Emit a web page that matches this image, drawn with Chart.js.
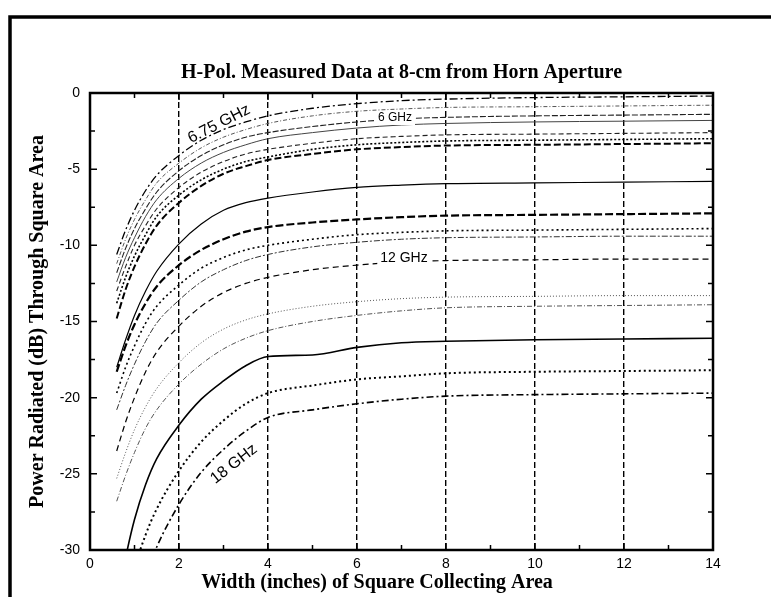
<!DOCTYPE html>
<html>
<head>
<meta charset="utf-8">
<title>H-Pol. Measured Data</title>
<script src="https://cdn.jsdelivr.net/npm/chart.js@4.4.1/dist/chart.umd.min.js"></script>
<style>
  html, body { margin: 0; padding: 0; background: #fff; }
  #wrap { position: relative; width: 771px; height: 597px; }
</style>
</head>
<body>
<div id="wrap"><canvas id="graph" width="771" height="597"></canvas></div>
<script>
// width of the square collecting area (inches)
const widths = [0.6, 0.8, 1, 1.25, 1.5, 2, 2.5, 3, 3.5, 4, 5, 6, 7, 8, 10, 12, 14];

// power through square area (dB), one array per measured curve
const top1 = [-10.6, -9.0, -7.7, -6.4, -5.4, -4.1, -3.1, -2.4, -1.9, -1.5, -1.0, -0.7, -0.5, -0.4, -0.3, -0.25, -0.2];
const top2 = [-11.2, -9.6, -8.3, -7.0, -5.9, -4.6, -3.6, -2.9, -2.4, -2.0, -1.5, -1.2, -1.05, -0.95, -0.9, -0.85, -0.8];
const top3 = [-11.8, -10.2, -8.9, -7.6, -6.5, -5.1, -4.1, -3.4, -2.9, -2.6, -2.2, -1.9, -1.7, -1.6, -1.5, -1.45, -1.4];
const top4 = [-12.4, -10.8, -9.5, -8.1, -7.0, -5.6, -4.6, -3.9, -3.4, -3.0, -2.6, -2.3, -2.1, -2.0, -1.9, -1.85, -1.8];
const top5 = [-13.0, -11.4, -10.0, -8.7, -7.6, -6.2, -5.2, -4.5, -4.0, -3.7, -3.3, -3.0, -2.85, -2.75, -2.7, -2.65, -2.6];
const top6 = [-13.8, -12.1, -10.7, -9.3, -8.1, -6.7, -5.7, -5.0, -4.5, -4.2, -3.7, -3.4, -3.25, -3.15, -3.1, -3.05, -3.0];
const top7 = [-14.8, -12.9, -11.4, -9.9, -8.7, -7.2, -6.1, -5.3, -4.8, -4.4, -4.0, -3.7, -3.55, -3.45, -3.4, -3.35, -3.3];
const mid1 = [-18.0, -16.2, -14.6, -13.0, -11.7, -9.9, -8.6, -7.7, -7.2, -6.9, -6.5, -6.2, -6.05, -5.95, -5.9, -5.85, -5.8];
const mid2 = [-18.3, -16.6, -15.2, -13.8, -12.7, -11.3, -10.3, -9.6, -9.1, -8.8, -8.5, -8.3, -8.15, -8.05, -8.0, -7.95, -7.9];
const mid3 = [-19.7, -18.0, -16.6, -15.1, -14.0, -12.6, -11.5, -10.8, -10.3, -10.0, -9.6, -9.3, -9.15, -9.05, -9.0, -8.95, -8.9];
const mid4 = [-20.8, -19.2, -17.8, -16.3, -15.1, -13.6, -12.4, -11.6, -11.0, -10.6, -10.1, -9.8, -9.6, -9.5, -9.45, -9.4, -9.4];
const mid5 = [-23.5, -21.6, -20.0, -18.3, -17.0, -15.3, -14.0, -13.1, -12.5, -12.1, -11.6, -11.3, -11.1, -11.0, -10.95, -10.9, -10.9];
const mid6 = [-25.3, -23.6, -22.1, -20.6, -19.4, -17.7, -16.4, -15.5, -14.9, -14.5, -14.0, -13.7, -13.5, -13.4, -13.35, -13.3, -13.3];
const mid7 = [-26.8, -25.1, -23.6, -22.0, -20.8, -19.1, -17.8, -16.8, -16.1, -15.6, -15.0, -14.6, -14.3, -14.1, -14.0, -13.95, -13.9];
const low1 = [-33.5, -30.5, -28.0, -25.7, -24.0, -21.8, -20.1, -18.9, -17.9, -17.3, -17.2, -16.7, -16.4, -16.3, -16.2, -16.15, -16.1];
const low2 = [-36.0, -33.5, -31.2, -29.0, -27.3, -24.8, -22.9, -21.5, -20.4, -19.7, -19.2, -18.8, -18.6, -18.4, -18.3, -18.25, -18.2];
const low3 = [-39.0, -36.5, -34.2, -31.7, -29.8, -27.0, -24.9, -23.4, -22.2, -21.3, -20.8, -20.4, -20.1, -19.9, -19.8, -19.75, -19.7];

const xTickValues = [0, 2, 4, 6, 8, 10, 12, 14];
const yTickValues = [0, -5, -10, -15, -20, -25, -30];
const xMinorValues = [1, 3, 5, 7, 9, 11, 13];
const yMinorValues = [-2.5, -7.5, -12.5, -17.5, -22.5, -27.5];

// line look for each curve
const curves = [
  { data: top1, color: '#000', width: 1.3, dash: [8, 3, 2, 3] },
  { data: top2, color: '#555', width: 1, dash: [4, 2, 1, 2] },
  { data: top3, color: '#222', width: 1.1, dash: [6, 2] },
  { data: top4, color: '#444', width: 1, dash: [] },
  { data: top5, color: '#222', width: 1.1, dash: [5, 3] },
  { data: top6, color: '#000', width: 1.6, dash: [2, 2] },
  { data: top7, color: '#000', width: 2, dash: [7, 3] },
  { data: mid1, color: '#000', width: 1.2, dash: [] },
  { data: mid2, color: '#000', width: 2.2, dash: [8, 3] },
  { data: mid3, color: '#000', width: 1.6, dash: [2, 3] },
  { data: mid4, color: '#333', width: 1, dash: [6, 2, 2, 2] },
  { data: mid5, color: '#000', width: 1.2, dash: [6, 4] },
  { data: mid6, color: '#555', width: 1, dash: [1, 2] },
  { data: mid7, color: '#555', width: 1, dash: [5, 2, 1, 2] },
  { data: low1, color: '#000', width: 1.6, dash: [] },
  { data: low2, color: '#000', width: 2, dash: [2, 3] },
  { data: low3, color: '#000', width: 1.6, dash: [7, 3, 2, 3] }
];

const datasets = curves.map(c => ({
  data: c.data.map((v, i) => ({ x: widths[i], y: v })),
  borderColor: c.color,
  borderWidth: c.width,
  borderDash: c.dash,
  pointRadius: 0,
  fill: false,
  cubicInterpolationMode: 'monotone'
}));

const serif = "'Liberation Serif', 'Times New Roman', serif";
const sans = "'Liberation Sans Narrow', 'Liberation Sans', Arial, sans-serif";

function label(ctx, text, x, y, angle, size, boxed) {
  ctx.save();
  ctx.translate(x, y);
  ctx.rotate(angle * Math.PI / 180);
  ctx.font = size + 'px ' + "'Liberation Sans', Arial, sans-serif";
  ctx.textAlign = 'center';
  ctx.textBaseline = 'middle';
  if (boxed) {
    const w = ctx.measureText(text).width;
    ctx.fillStyle = '#fff';
    ctx.fillRect(-w / 2 - 3, -size / 2 - 1, w + 6, size + 2);
  }
  ctx.fillStyle = '#000';
  ctx.fillText(text, 0, 0);
  ctx.restore();
}

const decor = {
  id: 'decor',
  beforeDraw(chart) {
    const { ctx, width, height } = chart;
    ctx.save();
    ctx.fillStyle = '#fff';
    ctx.fillRect(0, 0, width, height);
    ctx.restore();
  },
  afterDatasetsDraw(chart) {
    const { ctx, chartArea: a, scales: { x, y } } = chart;
    ctx.save();
    ctx.strokeStyle = '#000';

    // tick marks inside the box, all four sides
    ctx.lineWidth = 1.5;
    ctx.beginPath();
    xTickValues.concat(xMinorValues).forEach(v => {
      const px = x.getPixelForValue(v);
      const len = xMinorValues.includes(v) ? 5 : 7;
      ctx.moveTo(px, a.bottom); ctx.lineTo(px, a.bottom - len);
      ctx.moveTo(px, a.top); ctx.lineTo(px, a.top + len);
    });
    yTickValues.concat(yMinorValues).forEach(v => {
      const py = y.getPixelForValue(v);
      const len = yMinorValues.includes(v) ? 5 : 7;
      ctx.moveTo(a.left, py); ctx.lineTo(a.left + len, py);
      ctx.moveTo(a.right, py); ctx.lineTo(a.right - len, py);
    });
    ctx.stroke();

    // plot box
    ctx.lineWidth = 2.5;
    ctx.strokeRect(a.left, a.top, a.right - a.left, a.bottom - a.top);

    // curve labels
    label(ctx, '6.75 GHz', 219, 124, -27, 16, false);
    label(ctx, '6 GHz', 395, 118, 0, 12, true);
    label(ctx, '12 GHz', 404, 258, 0, 14, true);
    label(ctx, '18 GHz', 234, 464, -38, 16, false);

    // chart title and x-axis title (the latter sits a little left of centre)
    ctx.fillStyle = '#000';
    ctx.font = 'bold 20px ' + serif;
    ctx.textAlign = 'center';
    ctx.textBaseline = 'middle';
    ctx.fillText('H-Pol. Measured Data at 8-cm from Horn Aperture', (a.left + a.right) / 2, 73);
    ctx.fillText('Width (inches) of Square Collecting Area', 377, 583);

    // page frame (left and top edge)
    ctx.lineWidth = 3.5;
    ctx.beginPath();
    ctx.moveTo(10, 597); ctx.lineTo(10, 17); ctx.lineTo(771, 17);
    ctx.stroke();
    ctx.restore();
  }
};

new Chart(document.getElementById('graph').getContext('2d'), {
  type: 'line',
  data: { datasets },
  options: {
    responsive: false,
    animation: false,
    events: [],
    layout: { padding: { top: 93, right: 58, left: 0, bottom: 0 } },
    plugins: {
      legend: { display: false },
      tooltip: { enabled: false }
    },
    scales: {
      x: {
        type: 'linear',
        min: 0,
        max: 14,
        afterBuildTicks: s => { s.ticks = xTickValues.map(v => ({ value: v })); },
        afterFit: s => { s.height = 47; },
        // border.dash also sets the dash of the grid lines in v4
        border: { display: false, dash: [6, 3] },
        grid: {
          drawTicks: false,
          color: c => (c.tick && c.tick.value > 0 && c.tick.value < 14) ? '#000' : 'rgba(0,0,0,0)',
          lineWidth: 1.4
        },
        ticks: { color: '#000', padding: 6, maxRotation: 0, font: { family: sans, size: 14 } },
        title: { display: false }
      },
      y: {
        type: 'linear',
        min: -30,
        max: 0,
        afterBuildTicks: s => { s.ticks = yTickValues.map(v => ({ value: v })); },
        afterFit: s => { s.width = 90; },
        border: { display: false },
        grid: { display: false, drawTicks: false },
        ticks: { color: '#000', padding: 10, font: { family: sans, size: 14 } },
        title: {
          display: true,
          text: 'Power Radiated (dB) Through Square Area',
          color: '#000',
          font: { family: serif, size: 20, weight: 'bold' },
          padding: { top: 26, bottom: 0 }
        }
      }
    }
  },
  plugins: [decor]
});
</script>
</body>
</html>
